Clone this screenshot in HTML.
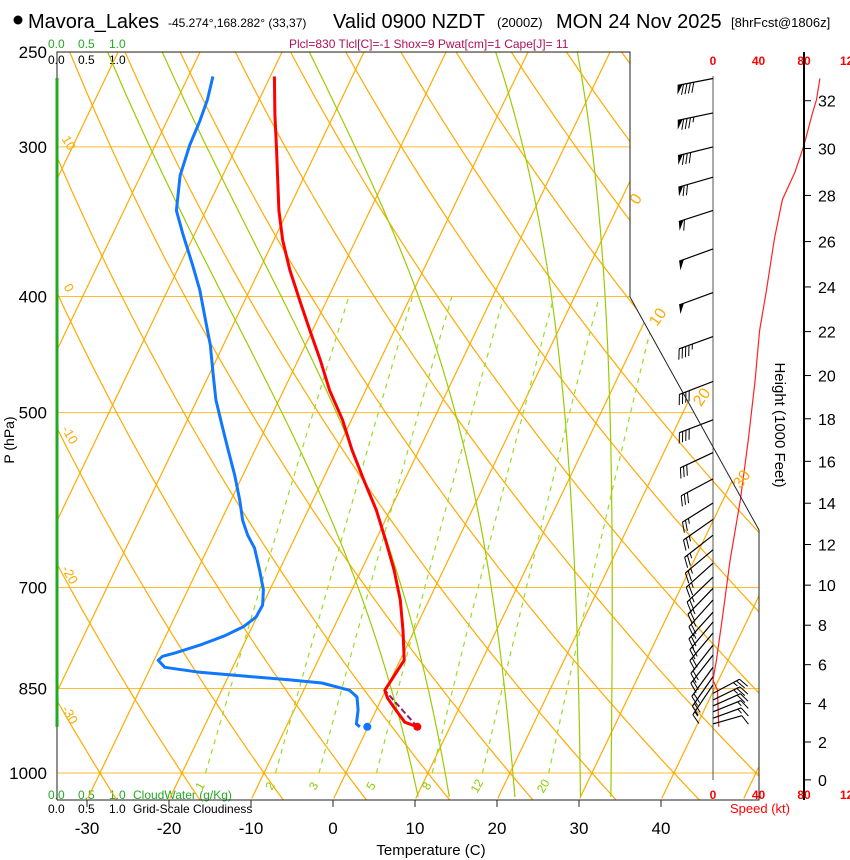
<!DOCTYPE html>
<html><head><meta charset="utf-8"><style>
html,body{margin:0;padding:0;background:#fff;}
svg{display:block;font-family:"Liberation Sans",sans-serif;}
</style></head><body>
<svg id="chart" width="850" height="860" viewBox="0 0 850 860" xmlns="http://www.w3.org/2000/svg">
<defs><clipPath id="plotclip"><polygon points="57,52 630,52 630,297 759,530 759,800 57,800"/></clipPath></defs>
<g>
<circle cx="18" cy="20" r="4.5" fill="#000"/>
<text x="28" y="28" font-size="20">Mavora_Lakes</text>
<text x="168" y="27" font-size="12">-45.274°,168.282° (33,37)</text>
<text x="333" y="28" font-size="20">Valid 0900 NZDT</text>
<text x="497" y="27" font-size="13">(2000Z)</text>
<text x="556" y="28" font-size="20">MON 24 Nov 2025</text>
<text x="731" y="27" font-size="13">[8hrFcst@1806z]</text>
</g>
<text x="289" y="48" font-size="12" fill="#b0105a">Plcl=830 Tlcl[C]=-1 Shox=9 Pwat[cm]=1 Cape[J]= 11</text>
<g font-size="12">
<text x="48" y="48" fill="#22aa22">0.0</text><text x="78" y="48" fill="#22aa22">0.5</text><text x="109" y="48" fill="#22aa22">1.0</text>
<text x="48" y="64" fill="#000">0.0</text><text x="78" y="64" fill="#000">0.5</text><text x="109" y="64" fill="#000">1.0</text>
</g>
<g font-size="12">
<text x="48" y="799" fill="#22aa22">0.0</text><text x="78" y="799" fill="#22aa22">0.5</text><text x="109" y="799" fill="#22aa22">1.0</text>
<text x="133" y="799" fill="#22aa22">CloudWater (g/Kg)</text>
<text x="48" y="813" fill="#000">0.0</text><text x="78" y="813" fill="#000">0.5</text><text x="109" y="813" fill="#000">1.0</text>
<text x="133" y="813" fill="#000">Grid-Scale Cloudiness</text>
</g>
<g id="grid" clip-path="url(#plotclip)"></g>
<g id="overlay"></g>
<text x="431" y="855" font-size="15" text-anchor="middle">Temperature (C)</text>
<text transform="translate(14,440) rotate(-90)" font-size="14" text-anchor="middle">P (hPa)</text>
<text transform="translate(775,425) rotate(90)" font-size="15" text-anchor="middle">Height (1000 Feet)</text>
<text x="760" y="813" font-size="13" fill="#ff0000" text-anchor="middle">Speed (kt)</text>
</svg>
<script>
const isobars = [250,300,400,500,700,850,1000];
const pressureLabels = ["250","300","400","500","700","850","1000"];
const tempTicks = [-30,-20,-10,0,10,20,30,40];
const mixRatios = [1,2,3,5,8,12,20];
const moistStartT = [10.2,14,22,30,33.7];
const heightTicks = [0,2,4,6,8,10,12,14,16,18,20,22,24,26,28,30,32];
const speedTicks = ["0","40","80","120"];
const speedTickVals = [0,40,80,120];

const tempP = [262,282,302,339,359,380,403,427,452,479,507,537,569,603,639,677,717,760,805,828,853,866,886,907,915];
const tempC = [-49.5,-47.2,-44.9,-41.1,-38.9,-36.3,-33.3,-30.3,-27.3,-24.4,-21.1,-18.2,-15.0,-11.7,-8.8,-6.0,-3.5,-1.4,0.5,0.2,-0.1,0.7,2.4,4.2,6.0];
const dewP = [262,274,285,299,317,339,355,376,395,419,439,465,488,512,537,564,592,615,633,649,677,703,724,741,755,768,782,794,799,805,816,824,830,836,841,853,864,886,910,915];
const dewC = [-57.0,-56.3,-56.0,-55.8,-55.2,-53.6,-51.4,-48.5,-46.1,-43.6,-41.6,-39.5,-37.7,-35.5,-33.3,-31.0,-28.9,-27.4,-25.9,-24.3,-22.4,-20.8,-20.0,-20.1,-21.1,-22.8,-25.3,-27.9,-29.2,-29.5,-28.3,-23.7,-18.0,-12.3,-8.2,-4.4,-3.1,-2.2,-1.6,-1.0];
const parcelP = [915,853];
const parcelC = [6.0,-0.1];
const sfcP = 915, sfcT = 6.0, sfcTd = -0.1;

const barbP = [263,281,300,318,339,365,397,432,471,507,540,568,595,614,633,651,668,686,701,717,734,748,764,782,797,816,831,844,858,869,879,889,900,910];
const barbDir = [259,258,256,254,252,250,250,250,249,249,245,242,238,235,232,230,228,226,224,222,222,220,220,218,218,216,215,214,62,64,66,68,70,74];
const barbKt = [90,85,80,70,60,50,50,45,40,40,30,30,25,25,25,25,25,25,25,25,25,20,20,20,20,20,20,15,25,25,20,15,15,10];

const speedP = [263,274,282,299,315,332,358,395,427,470,527,592,664,745,805,836,853,915];
const speedKt = [94,91,87,80,72,61,54,47,41,37,31,24,15,8,3,0,4,5];

const NS='http://www.w3.org/2000/svg';
function yP(p){return 773-520*Math.log(1000/p);}
function xT(T,p){return 333+8.2*T+0.48*(800-yP(p));}
function xKt(k){return 713+k*45.5/40;}
function mk(tag,attrs,parent){const e=document.createElementNS(NS,tag);for(const k in attrs)e.setAttribute(k,attrs[k]);parent.appendChild(e);return e;}
const svg=document.getElementById('chart');
const grid=document.getElementById('grid');
const ov=document.getElementById('overlay');
function pts(arr){return arr.map(a=>a[0].toFixed(1)+','+a[1].toFixed(1)).join(' ');}

isobars.forEach((p,i)=>{
  const l=mk('line',{x1:57,x2:760,y1:yP(p),y2:yP(p),stroke:'#ffbb33','stroke-width':1},grid);
  
  
  const t=mk('text',{x:47,y:yP(p)+6,'font-size':17,'text-anchor':'end'},svg);
  t.textContent=pressureLabels[i];
  
  
});
for(let T=-120;T<=50;T+=10){
  const l=mk('line',{x1:xT(T,1050),y1:yP(1050),x2:xT(T,240),y2:yP(240),stroke:'#ffaa00','stroke-width':1.2},grid);
  
  
}
for(let th=-40;th<=180;th+=10){
  const a=[];
  for(let p=1060;p>=240;p-=10){const T=(th+273.15)*Math.pow(p/1000,0.2857)-273.15;a.push([xT(T,p),yP(p)]);}
  const l=mk('polyline',{points:pts(a),fill:'none',stroke:'#ffaa00','stroke-width':1.2},grid);
  
  
}
function es(T){return 6.112*Math.exp(17.67*T/(T+243.5));}
moistStartT.forEach(T0=>{
  let T=T0+273.15;const a=[];
  for(let p=1047;p>=240;p-=2){
    a.push([xT(T-273.15,p),yP(p)]);
    const e=es(T-273.15);const rs=0.622*e/(p-e);
    const Rd=287,cp=1005,Lv=2.5e6;
    const dTdp=(Rd*T+Lv*rs)/(p*(cp+Lv*Lv*rs*0.622/(Rd*T*T)));
    T-=dTdp*2;
  }
  const l=mk('polyline',{points:pts(a),fill:'none',stroke:'#99cc00','stroke-width':1.2},grid);
  
  
});
mixRatios.forEach(w=>{
  const a=[];
  for(let p=1000;p>=400;p-=10){const e=w*p/(622+w);const L=Math.log(e/6.112);const T=243.5*L/(17.67-L);a.push([xT(T,p),yP(p)]);}
  const l=mk('polyline',{points:pts(a),fill:'none',stroke:'#99dd22','stroke-width':1.2,'stroke-dasharray':'5,5'},grid);
  
  
  const e=w*1000/(622+w);const L=Math.log(e/6.112);const T=243.5*L/(17.67-L);
  const x=xT(T,1000)-2,y=788;
  const t=mk('text',{x:x,y:y,'font-size':12,fill:'#88cc00','text-anchor':'middle',transform:'rotate(-60 '+x+' '+y+')'},svg);
  t.textContent=String(w);
  
  
});
const fr=mk('polyline',{points:'57,800 57,52 630,52 630,297 759,530 759,800 57,800',fill:'none',stroke:'#222','stroke-width':1},svg);


const gl=mk('line',{x1:57,x2:57,y1:78,y2:727,stroke:'#22aa22','stroke-width':3},svg);


[[0,640,202],[10,662,320],[20,706,400],[30,746,482]].forEach(d=>{
  const t=mk('text',{x:d[1],y:d[2],'font-size':16,fill:'#ffaa00','text-anchor':'middle',transform:'rotate(-55 '+d[1]+' '+d[2]+')'},svg);
  t.textContent=String(d[0]);
  
  
});
[[10,65,145],[0,65,290],[-10,66,437],[-20,66,577],[-30,66,717]].forEach(d=>{
  const t=mk('text',{x:d[1],y:d[2],'font-size':13,fill:'#ffaa00','text-anchor':'middle',transform:'rotate(60 '+d[1]+' '+d[2]+')'},svg);
  t.textContent=String(d[0]);
  
  
});
tempTicks.forEach(T=>{
  const x=333+8.2*T;
  mk('line',{x1:x,x2:x,y1:800,y2:807,stroke:'#222'},svg);
  const t=mk('text',{x:x,y:834,'font-size':17,'text-anchor':'middle'},svg);
  t.textContent=String(T);
  
  
});
function profile(P,C,color,w,name,dash){
  const a=P.map((p,i)=>[xT(C[i],p),yP(p)]);
  const attrs={points:pts(a),fill:'none',stroke:color,'stroke-width':w,'stroke-linejoin':'round'};
  if(dash)attrs['stroke-dasharray']=dash;
  const l=mk('polyline',attrs,ov);
  
  
}
profile(parcelP,parcelC,'#882266',2,'parcel-line','6,3');
profile(dewP,dewC,'#1177ff',3,'dewpoint-line');
profile(tempP,tempC,'#ff0000',3,'temperature-line');
const d1=mk('circle',{cx:xT(sfcT,sfcP),cy:yP(sfcP),r:4,fill:'#ff0000'},ov);


const d2=mk('circle',{cx:xT(sfcTd,sfcP),cy:yP(sfcP),r:4,fill:'#1177ff'},ov);


const sa=mk('line',{x1:713,x2:713,y1:76,y2:780,stroke:'#555','stroke-width':1},ov);


speedTickVals.forEach((k,i)=>{
  [65,799].forEach(y=>{
    const t=mk('text',{x:k===120?840:xKt(k),y:y,'font-size':12,'font-weight':'bold',fill:'#ff0000','text-anchor':k===120?'start':'middle'},svg);
    t.textContent=speedTicks[i];
    
    
  });
});
const sp=mk('polyline',{points:pts(speedP.map((p,i)=>[xKt(speedKt[i]),yP(p)])),fill:'none',stroke:'#ff2222','stroke-width':1.2},ov);


barbP.forEach((p,i)=>{
  const g=mk('g',{},ov);
  
  
  const dir=barbDir[i]*Math.PI/180;
  const ux=Math.sin(dir),uy=-Math.cos(dir);
  const L=ux>0?30:36;const x0=713,y0=yP(p);
  const tx=x0+ux*L,ty=y0+uy*L;
  mk('line',{x1:x0,y1:y0,x2:tx,y2:ty,stroke:'#000','stroke-width':1.2},g);
  let px=-uy,py=ux;
  if(ux<0){px=uy;py=-ux;}
  let s=Math.round(barbKt[i]/5)*5;let pos=0;
  while(s>=50){
    const bx=tx-ux*pos,by=ty-uy*pos;
    mk('polygon',{points:[bx,by,bx+px*9+ux*2,by+py*9+uy*2,bx-ux*5,by-uy*5].map(v=>v.toFixed(1)).join(','),fill:'#000'},g);
    pos+=6;s-=50;
  }
  while(s>=10){
    const bx=tx-ux*pos,by=ty-uy*pos;
    mk('line',{x1:bx,y1:by,x2:bx+px*10+ux*4,y2:by+py*10+uy*4,stroke:'#000','stroke-width':1},g);
    pos+=3.5;s-=10;
  }
  if(s>=5){
    const bx=tx-ux*pos,by=ty-uy*pos;
    mk('line',{x1:bx,y1:by,x2:bx+px*5+ux*2,y2:by+py*5+uy*2,stroke:'#000','stroke-width':1},g);
  }
});
const ha=mk('line',{x1:804,x2:804,y1:52,y2:800,stroke:'#000','stroke-width':2},svg);


heightTicks.forEach(h=>{
  const m=h*1000*0.3048;
  const p=1013.25*Math.pow(1-2.25577e-5*m,5.2559);
  const y=yP(p);
  mk('line',{x1:804,x2:811,y1:y,y2:y,stroke:'#000'},svg);
  const t=mk('text',{x:818,y:y+6,'font-size':16},svg);
  t.textContent=String(h);
  
  
});
</script>
</body></html>
